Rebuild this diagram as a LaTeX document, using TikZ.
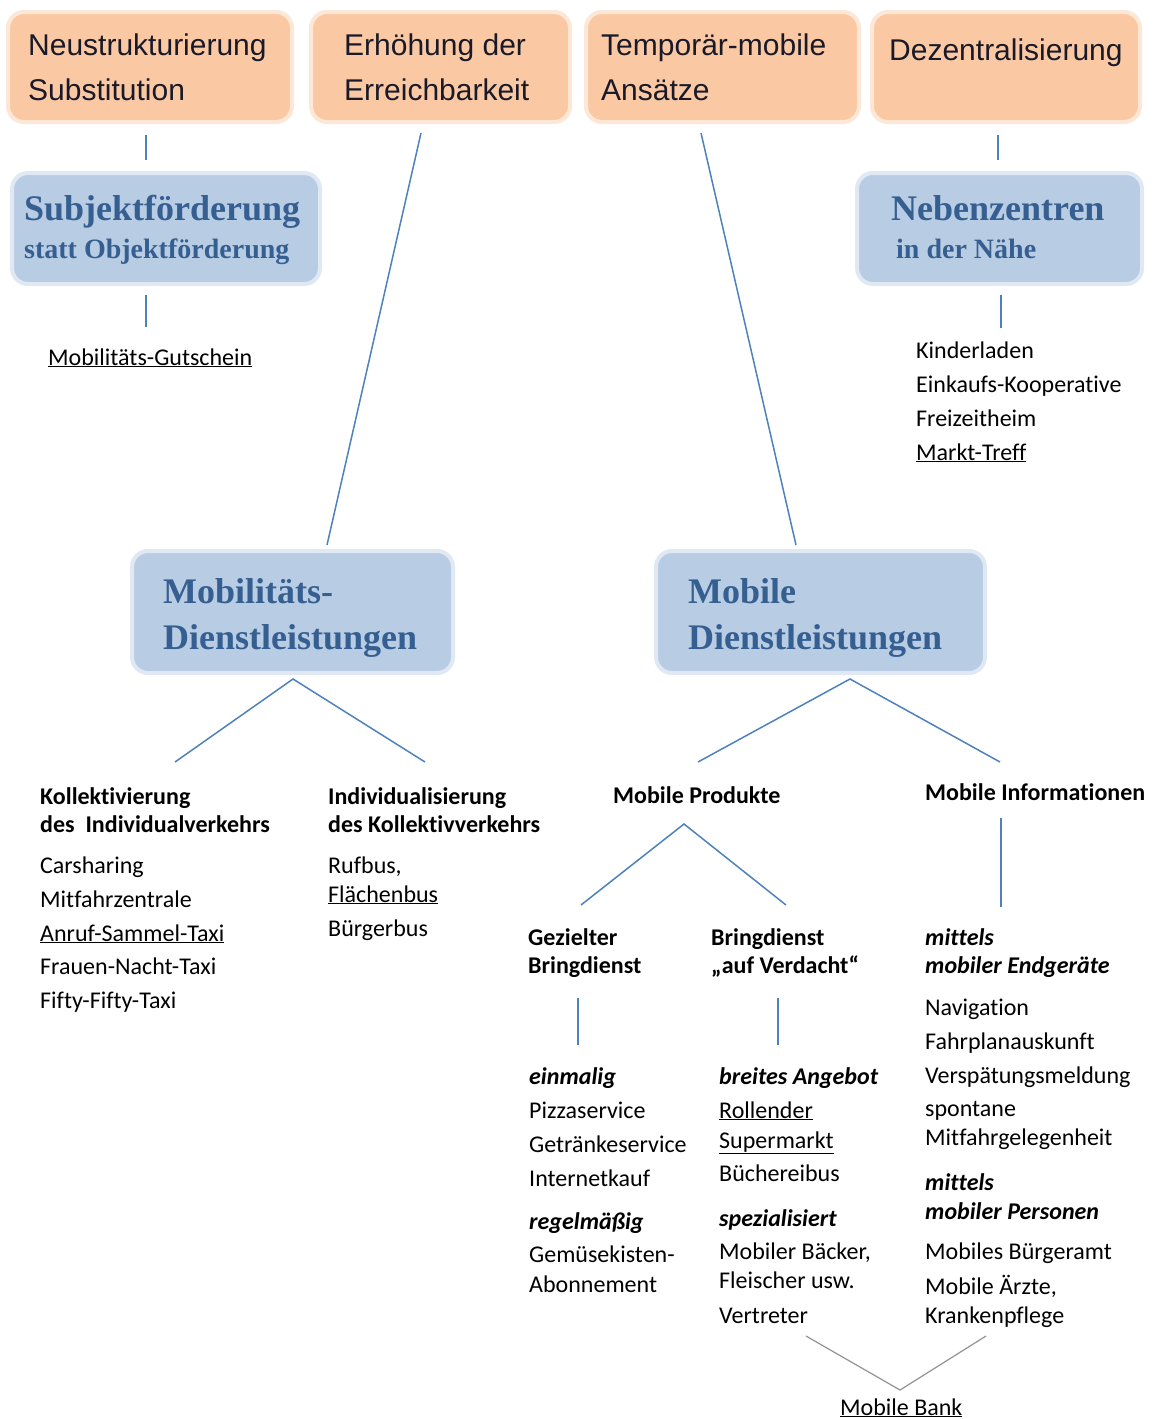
\documentclass[tikz,border=0pt]{standalone}
\usepackage{fontspec}
\setmainfont{Carlito}[Ligatures=NoCommon]
\newfontfamily\arialf{Liberation Sans}
\newfontfamily\cambf{Liberation Serif}
\definecolor{orangefill}{RGB}{250,201,164}
\definecolor{bluefill}{RGB}{184,204,228}
\definecolor{headblue}{RGB}{54,95,145}
\definecolor{linecol}{RGB}{79,129,189}
\definecolor{darktxt}{RGB}{25,25,40}
\newcommand\ul[1]{\underline{#1}}
\begin{document}
\begin{tikzpicture}[x=1pt,y=-1pt,
  obox/.style={fill=orangefill, draw=orangefill!45, line width=4pt, rounded corners=16pt, inner sep=0pt},
  bbox/.style={fill=bluefill, draw=bluefill!45, line width=4pt, rounded corners=16pt, inner sep=0pt},
  ln/.style={draw=linecol, line width=1.5pt},
  gln/.style={draw=gray!85, line width=1.2pt},
  otxt/.style={anchor=base west, inner sep=0pt, text=darktxt, font=\arialf\fontsize{30}{30}\selectfont},
  htxt/.style={anchor=base west, inner sep=0pt, text=headblue, font=\cambf\bfseries\fontsize{36}{36}\selectfont},
  stxt/.style={anchor=base west, inner sep=0pt, text=headblue, font=\cambf\bfseries\fontsize{28}{28}\selectfont},
  txt/.style={anchor=base west, inner sep=0pt, font=\fontsize{24}{24}\selectfont},
  btxt/.style={anchor=base west, inner sep=0pt, font=\bfseries\fontsize{24}{24}\selectfont},
  itxt/.style={anchor=base west, inner sep=0pt, font=\bfseries\itshape\fontsize{24}{24}\selectfont},
]
\useasboundingbox[fill=white] (0,0) rectangle (1153,1419);

% orange boxes
\node[obox, minimum width=284pt, minimum height=110pt] (o1) at (150,67) {};
\node[obox, minimum width=259pt, minimum height=110pt] (o2) at (440.5,67) {};
\node[obox, minimum width=273pt, minimum height=110pt] (o3) at (722.5,67) {};
\node[obox, minimum width=268pt, minimum height=110pt] (o4) at (1006,67) {};
\node[otxt] (o1a) at (28,55) {Neustrukturierung};
\node[otxt] (o1b) at (28,100) {Substitution};
\node[otxt] (o2a) at (344,55) {Erhöhung der};
\node[otxt] (o2b) at (344,100) {Erreichbarkeit};
\node[otxt] (o3a) at (601,55) {Temporär-mobile};
\node[otxt] (o3b) at (601,100) {Ansätze};
\node[otxt] (o4a) at (889,60) {Dezentralisierung};

% blue boxes
\node[bbox, minimum width=308pt, minimum height=111pt] (b1) at (166,228.5) {};
\node[bbox, minimum width=285pt, minimum height=111pt] (b2) at (999.5,228.5) {};
\node[bbox, minimum width=321pt, minimum height=122pt] (b3) at (292.5,612) {};
\node[bbox, minimum width=329pt, minimum height=122pt] (b4) at (820.5,612) {};
\node[htxt] (b1a) at (24,220) {Subjektförderung};
\node[stxt] (b1b) at (24,258) {statt Objektförderung};
\node[htxt] (b2a) at (891,220) {Nebenzentren};
\node[stxt] (b2b) at (896,258) {in der Nähe};
\node[htxt] (b3a) at (163,603) {Mobilitäts-};
\node[htxt] (b3b) at (163,649) {Dienstleistungen};
\node[htxt] (b4a) at (688,603) {Mobile};
\node[htxt] (b4b) at (688,649) {Dienstleistungen};

% texts top
\node[txt] (t1) at (48,365) {\ul{Mobilitäts-Gutschein}};
\node[txt] (k1) at (916,358) {Kinderladen};
\node[txt] (k2) at (916,392) {Einkaufs-Kooperative};
\node[txt] (k3) at (916,426) {Freizeitheim};
\node[txt] (k4) at (916,460) {\ul{Markt-Treff}};

% left columns
\node[btxt] (c1a) at (40,804) {Kollektivierung};
\node[btxt] (c1b) at (40,832) {des\ \ Individualverkehrs};
\node[txt] (c1c) at (40,873) {Carsharing};
\node[txt] (c1d) at (40,907) {Mitfahrzentrale};
\node[txt] (c1e) at (40,941) {\ul{Anruf-Sammel-Taxi}};
\node[txt] (c1f) at (40,974) {Frauen-Nacht-Taxi};
\node[txt] (c1g) at (40,1008) {Fifty-Fifty-Taxi};

\node[btxt] (c2a) at (328,804) {Individualisierung};
\node[btxt] (c2b) at (328,832) {des Kollektivverkehrs};
\node[txt] (c2c) at (328,873) {Rufbus,};
\node[txt] (c2d) at (328,902) {\ul{Flächenbus}};
\node[txt] (c2e) at (328,936) {Bürgerbus};

% mobile products / info
\node[btxt] (mp) at (613,803) {Mobile Produkte};
\node[btxt] (mi) at (925,800) {Mobile Informationen};

\node[btxt] (g1) at (528,945) {Gezielter};
\node[btxt] (g2) at (528,973) {Bringdienst};
\node[btxt] (v1) at (711,945) {Bringdienst};
\node[btxt] (v2) at (711,973) {„auf Verdacht“};
\node[itxt] (m1) at (925,945) {mittels};
\node[itxt] (m2) at (925,973) {mobiler Endgeräte};

\node[txt] (n1) at (925,1015) {Navigation};
\node[txt] (n2) at (925,1049) {Fahrplanauskunft};
\node[txt] (n3) at (925,1083) {Verspätungsmeldung};
\node[txt] (n4) at (925,1116) {spontane};
\node[txt] (n5) at (925,1145) {Mitfahrgelegenheit};
\node[itxt] (n6) at (925,1190) {mittels};
\node[itxt] (n7) at (925,1219) {mobiler Personen};
\node[txt] (n8) at (925,1259) {Mobiles Bürgeramt};
\node[txt] (n9) at (925,1294) {Mobile Ärzte,};
\node[txt] (n10) at (925,1323) {Krankenpflege};

\node[itxt] (e1) at (529,1084) {einmalig};
\node[txt] (e2) at (529,1118) {Pizzaservice};
\node[txt] (e3) at (529,1152) {Getränkeservice};
\node[txt] (e4) at (529,1186) {Internetkauf};
\node[itxt] (e5) at (529,1229) {regelmäßig};
\node[txt] (e6) at (529,1262) {Gemüsekisten-};
\node[txt] (e7) at (529,1292) {Abonnement};

\node[itxt] (f1) at (719,1084) {breites Angebot};
\node[txt] (f2) at (719,1118) {\ul{Rollender}};
\node[txt] (f3) at (719,1148) {\ul{Supermarkt}};
\node[txt] (f4) at (719,1181) {Büchereibus};
\node[itxt] (f5) at (719,1226) {spezialisiert};
\node[txt] (f6) at (719,1259) {Mobiler Bäcker,};
\node[txt] (f7) at (719,1288) {Fleischer usw.};
\node[txt] (vt) at (719,1323) {Vertreter};
\node[txt] (mb) at (840,1415) {\ul{Mobile Bank}};

% connector end points
\coordinate (p1a) at (146,135); \coordinate (p1b) at (146,160);
\coordinate (p2a) at (146,295); \coordinate (p2b) at (146,327);
\coordinate (p3a) at (998,135); \coordinate (p3b) at (998,160);
\coordinate (p4a) at (1001,295); \coordinate (p4b) at (1001,328);
\coordinate (p5a) at (421,133); \coordinate (p5b) at (327,545);
\coordinate (p6a) at (701,133); \coordinate (p6b) at (796,545);
\coordinate (q1) at (293,679); \coordinate (q1l) at (175,762); \coordinate (q1r) at (425,762);
\coordinate (q2) at (850,679); \coordinate (q2l) at (698,762); \coordinate (q2r) at (1000,762);
\coordinate (q3) at (684,824); \coordinate (q3l) at (581,905); \coordinate (q3r) at (786,905);
\coordinate (q4a) at (1001,818); \coordinate (q4b) at (1001,907);
\coordinate (q5a) at (578,998); \coordinate (q5b) at (578,1045);
\coordinate (q6a) at (778,998); \coordinate (q6b) at (778,1045);
\coordinate (r1) at (806,1336); \coordinate (r2) at (900,1390); \coordinate (r3) at (986,1336);

\draw[ln] (p1a) -- (p1b);
\draw[ln] (p2a) -- (p2b);
\draw[ln] (p3a) -- (p3b);
\draw[ln] (p4a) -- (p4b);
\draw[ln] (p5a) -- (p5b);
\draw[ln] (p6a) -- (p6b);
\draw[ln] (q1l) -- (q1) -- (q1r);
\draw[ln] (q2l) -- (q2) -- (q2r);
\draw[ln] (q3l) -- (q3) -- (q3r);
\draw[ln] (q4a) -- (q4b);
\draw[ln] (q5a) -- (q5b);
\draw[ln] (q6a) -- (q6b);
\draw[gln] (r1) -- (r2) -- (r3);
\end{tikzpicture}
\end{document}
